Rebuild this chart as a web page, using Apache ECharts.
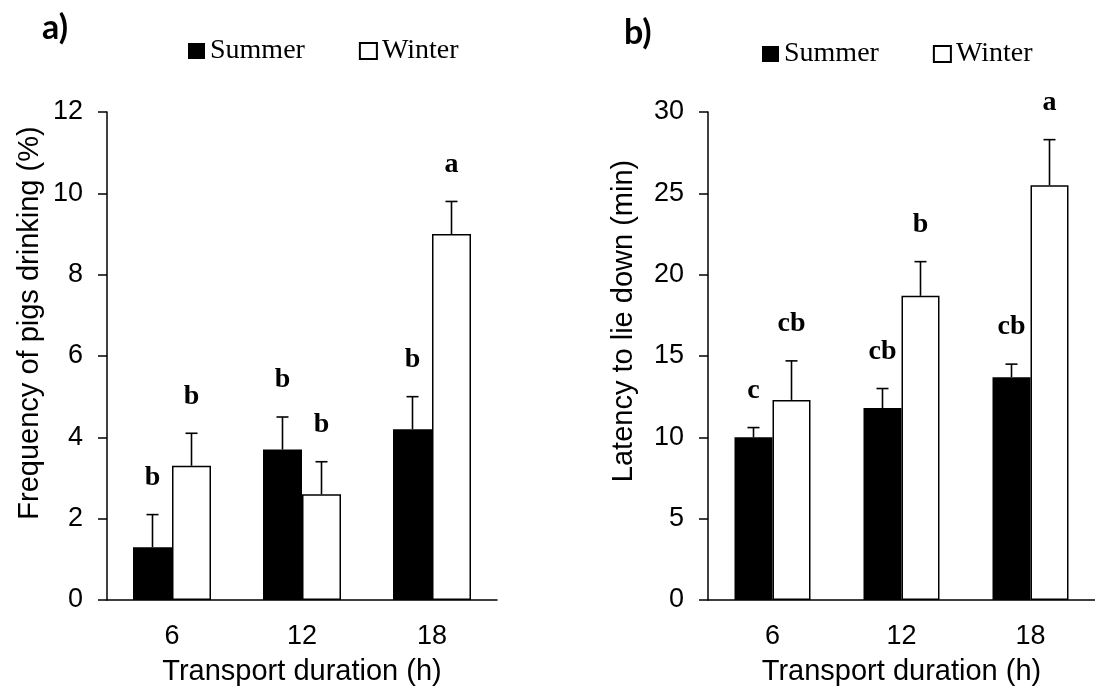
<!DOCTYPE html>
<html>
<head>
<meta charset="utf-8">
<title>Pig transport: drinking and lying latency</title>
<script src="https://cdn.jsdelivr.net/npm/echarts@6/dist/echarts.min.js"></script>
<style>
  html, body { margin: 0; padding: 0; background: #fff; }
  #chart { width: 1095px; height: 691px; }
</style>
</head>
<body>
<div id="chart"></div>
<script>
// Transport duration groups (h)
const categories = ['6', '12', '18'];

// a) Frequency of pigs drinking (%), mean and SE
const drinkSummer = [1.3, 3.7, 4.2];
const drinkSummerSE = [0.8, 0.8, 0.8];
const drinkWinter = [3.3, 2.6, 9.0];
const drinkWinterSE = [0.8, 0.8, 0.8];
const drinkSummerLetters = ['b', 'b', 'b'];
const drinkWinterLetters = ['b', 'b', 'a'];

// b) Latency to lie down (min), mean and SE
const lieSummer = [10.0, 11.8, 13.7];
const lieSummerSE = [0.6, 1.2, 0.8];
const lieWinter = [12.3, 18.7, 25.5];
const lieWinterSE = [2.4, 2.1, 2.8];
const lieSummerLetters = ['c', 'cb', 'cb'];
const lieWinterLetters = ['cb', 'b', 'a'];

// y-axis ranges
const drinkAxis = { min: 0, max: 12, interval: 2 };
const lieAxis = { min: 0, max: 30, interval: 5 };

const SANS = "'Liberation Sans', Arial, sans-serif";
const SERIF = "'Liberation Serif', 'Times New Roman', serif";
const PANEL = "Lato, 'Open Sans', sans-serif";

const chart = echarts.init(document.getElementById('chart'), null, { renderer: 'canvas' });

// Error bar (upper whisker + cap) with a significance letter above it
function errorSeries(axisIdx, means, ses, letters, offset) {
  return {
    type: 'custom',
    xAxisIndex: axisIdx,
    yAxisIndex: axisIdx,
    z: 5,
    silent: true,
    data: means.map((m, i) => [i, m, ses[i]]),
    renderItem: function (params, api) {
      const i = api.value(0), m = api.value(1), se = api.value(2);
      const base = api.coord([i, m]);
      const top = api.coord([i, m + se]);
      const cx = base[0] + offset;
      const line = { stroke: '#000', lineWidth: 1.6 };
      return {
        type: 'group',
        children: [
          { type: 'line', shape: { x1: cx, y1: base[1], x2: cx, y2: top[1] }, style: line },
          { type: 'line', shape: { x1: cx - 6, y1: top[1], x2: cx + 6, y2: top[1] }, style: line },
          {
            type: 'text',
            x: cx, y: top[1] - 37,
            style: {
              text: letters[params.dataIndex],
              fontFamily: SERIF, fontWeight: 'bold', fontSize: 28,
              fill: '#000', align: 'center', verticalAlign: 'middle'
            }
          }
        ]
      };
    }
  };
}

function yAxisOf(gridIdx, range) {
  return {
    type: 'value', gridIndex: gridIdx,
    min: range.min, max: range.max, interval: range.interval,
    axisLine: { show: true, lineStyle: { color: '#000', width: 1.5 } },
    axisTick: { show: true, inside: false, length: 9, lineStyle: { color: '#000', width: 1.5 } },
    axisLabel: { color: '#000', fontFamily: SANS, fontSize: 27, margin: 24 },
    splitLine: { show: false }
  };
}

function xAxisOf(gridIdx) {
  return {
    type: 'category', gridIndex: gridIdx, data: categories,
    axisLine: { show: true, lineStyle: { color: '#000', width: 1.5 } },
    axisTick: { show: false },
    axisLabel: { color: '#000', fontFamily: SANS, fontSize: 27, margin: 23 },
    name: 'Transport duration (h)', nameLocation: 'middle', nameGap: 57,
    nameTextStyle: { color: '#000', fontFamily: SANS, fontSize: 29 }
  };
}

const summerStyle = { color: '#000' };
const winterStyle = { color: '#fff', borderColor: '#000', borderWidth: 1.5 };

function legendOf(left, top) {
  return {
    left: left, top: top, orient: 'horizontal',
    data: ['Summer', 'Winter'],
    icon: 'rect', itemWidth: 17, itemHeight: 16, itemGap: 54,
    selectedMode: false,
    textStyle: { color: '#000', fontFamily: SERIF, fontSize: 28 }
  };
}

function yTitle(text, x, y) {
  return {
    type: 'text', x: x, y: y, rotation: Math.PI / 2,
    style: { text: text, fontFamily: SANS, fontSize: 29, fill: '#000',
             align: 'center', verticalAlign: 'middle' }
  };
}

function panelTag(text, x, y) {
  return {
    type: 'text', x: x, y: y,
    style: { text: text, fontFamily: PANEL, fontWeight: 'bold', fontSize: 34, fill: '#000',
             align: 'left', verticalAlign: 'middle' }
  };
}

const BW_A = 39, BW_B = 38;

const option = {
  animation: false,
  backgroundColor: '#fff',
  grid: [
    { left: 107, top: 112, width: 390, height: 491 },
    { left: 708, top: 112, width: 400, height: 491 }
  ],
  legend: [legendOf(183, 32), legendOf(757, 35)],
  xAxis: [xAxisOf(0), xAxisOf(1)],
  yAxis: [yAxisOf(0, drinkAxis), yAxisOf(1, lieAxis)],
  graphic: [
    panelTag('a)', 42, 28),
    panelTag('b)', 624, 33),
    yTitle('Frequency of pigs drinking (%)', 30, 323),
    yTitle('Latency to lie down (min)', 624, 321)
  ],
  series: [
    { name: 'Summer', type: 'bar', xAxisIndex: 0, yAxisIndex: 0, data: drinkSummer,
      barWidth: BW_A, barGap: '0%', itemStyle: summerStyle },
    { name: 'Winter', type: 'bar', xAxisIndex: 0, yAxisIndex: 0, data: drinkWinter,
      barWidth: BW_A, barGap: '0%', itemStyle: winterStyle },
    { name: 'Summer', type: 'bar', xAxisIndex: 1, yAxisIndex: 1, data: lieSummer,
      barWidth: BW_B, barGap: '0%', itemStyle: summerStyle },
    { name: 'Winter', type: 'bar', xAxisIndex: 1, yAxisIndex: 1, data: lieWinter,
      barWidth: BW_B, barGap: '0%', itemStyle: winterStyle },
    errorSeries(0, drinkSummer, drinkSummerSE, drinkSummerLetters, -BW_A / 2),
    errorSeries(0, drinkWinter, drinkWinterSE, drinkWinterLetters, BW_A / 2),
    errorSeries(1, lieSummer, lieSummerSE, lieSummerLetters, -BW_B / 2),
    errorSeries(1, lieWinter, lieWinterSE, lieWinterLetters, BW_B / 2)
  ]
};

chart.setOption(option);
</script>
</body>
</html>
